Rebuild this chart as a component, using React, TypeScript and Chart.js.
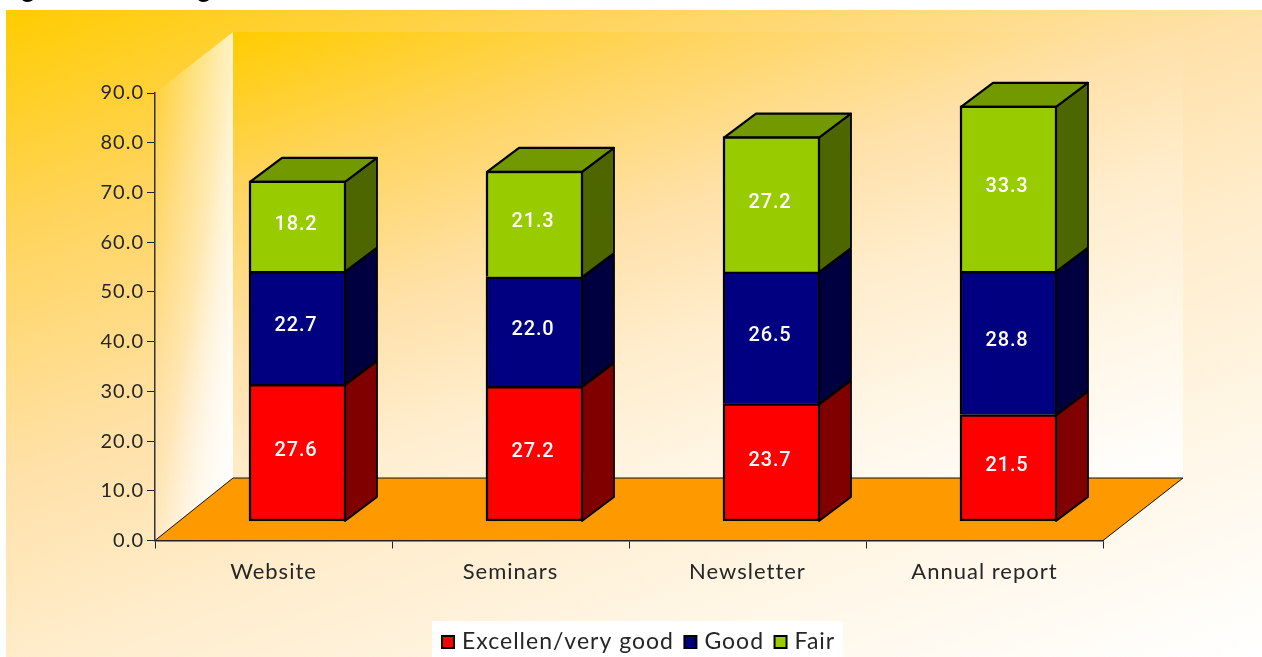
import React, { useEffect, useRef } from "react";
import { Chart, registerables } from "chart.js";

Chart.register(...registerables);

const categories = ["Website", "Seminars", "Newsletter", "Annual report"];
const excellentValues = [27.6, 27.2, 23.7, 21.5];
const goodValues = [22.7, 22.0, 26.5, 28.8];
const fairValues = [18.2, 21.3, 27.2, 33.3];
const seriesNames = ["Excellen/very good", "Good", "Fair"];
const frontColors = ["#ff0000", "#000080", "#99cc00"];
const sideColors = ["#800000", "#000040", "#4d6600"];
const topColor = "#739900";

const AXIS_FONT = "Lato";
const TEXT_COLOR = "#262626";

// Offset of the bar fronts from the axis plane, and the depth of each box.
const BAR_SHIFT = { x: 24, y: -19 };
const BAR_DEPTH = { x: 32, y: -24 };
// Depth of the room behind the axes.
const ROOM_DEPTH = { x: 78, y: -62.5 };

const STOPS: [number, string][] = [
  [0, "#ffcc00"],
  [0.2, "#ffd45c"],
  [0.42, "#ffe1a8"],
  [0.6, "#ffedcd"],
  [0.8, "#fff7e8"],
  [1, "#ffffff"],
];

function warmGradient(ctx: CanvasRenderingContext2D, x0: number, y0: number, x1: number, y1: number) {
  const g = ctx.createLinearGradient(x0, y0, x1, y1);
  STOPS.forEach(([t, c]) => g.addColorStop(t, c));
  return g;
}

function polygon(ctx: CanvasRenderingContext2D, pts: number[][]) {
  ctx.beginPath();
  pts.forEach(([x, y], i) => (i ? ctx.lineTo(x, y) : ctx.moveTo(x, y)));
  ctx.closePath();
}

// Panel, back wall, side wall and floor of the room, positioned from the chart area.
const roomPlugin = {
  id: "room",
  beforeDraw(chart: any) {
    const { ctx, chartArea: a, width, height } = chart;
    const backLeft = a.left + ROOM_DEPTH.x;
    const backRight = a.right + ROOM_DEPTH.x + 2;
    const backBottom = a.bottom + ROOM_DEPTH.y;
    const backTop = 32;

    ctx.save();
    ctx.fillStyle = warmGradient(ctx, 6, 10, 371, 990);
    ctx.fillRect(6, 10, width - 6, height - 10);

    ctx.fillStyle = warmGradient(ctx, backLeft, backTop, backLeft + 234, backTop + 690);
    ctx.fillRect(backLeft, backTop, backRight - backLeft, backBottom - backTop);

    const wall = [
      [a.left, a.bottom],
      [a.left, a.top],
      [backLeft, backTop],
      [backLeft, backBottom],
    ];
    const across = ctx.createLinearGradient(a.left, 0, backLeft, 0);
    across.addColorStop(0, "rgba(255,255,255,0)");
    across.addColorStop(1, "rgba(255,255,255,0.72)");
    polygon(ctx, wall);
    ctx.fillStyle = across;
    ctx.fill();
    const lower = ctx.createLinearGradient(backLeft - 66.7, backBottom - 10.4, backLeft, backBottom);
    lower.addColorStop(0, "rgba(255,255,255,0)");
    lower.addColorStop(1, "rgba(255,255,255,0.95)");
    polygon(ctx, wall);
    ctx.fillStyle = lower;
    ctx.fill();

    polygon(ctx, [
      [a.left, a.bottom],
      [backLeft, backBottom],
      [backRight, backBottom],
      [a.right, a.bottom],
    ]);
    ctx.fillStyle = "#ff9900";
    ctx.fill();
    ctx.strokeStyle = "#111";
    ctx.lineWidth = 1;
    ctx.stroke();

    // Descenders of the heading that runs off the top edge.
    ctx.fillStyle = "#000";
    ctx.font = "bold 26px 'Liberation Sans'";
    ctx.textAlign = "center";
    ctx.textBaseline = "alphabetic";
    ctx.fillText("g", 28, -3.5);
    ctx.fillText("g", 204, -3.5);
    ctx.restore();

    ctx.letterSpacing = "1px";
  },
};

// Shifts the bars onto the floor, and adds the side and top faces of each box.
const boxPlugin = {
  id: "boxes",
  beforeDatasetsDraw(chart: any) {
    const { ctx } = chart;
    ctx.save();
    ctx.translate(BAR_SHIFT.x, BAR_SHIFT.y);
    chart.data.datasets.forEach((_: unknown, d: number) => {
      const isTop = d === chart.data.datasets.length - 1;
      chart.getDatasetMeta(d).data.forEach((bar: any) => {
        const right = bar.x + bar.width / 2 - 1;
        const left = bar.x - bar.width / 2 + 1;
        const top = bar.y + 1;
        const bottom = bar.base;
        polygon(ctx, [
          [right, bottom],
          [right + BAR_DEPTH.x, bottom + BAR_DEPTH.y],
          [right + BAR_DEPTH.x, top + BAR_DEPTH.y],
          [right, top],
        ]);
        ctx.fillStyle = sideColors[d];
        ctx.fill();
        ctx.strokeStyle = "#000";
        ctx.lineWidth = 1.8;
        ctx.lineJoin = "round";
        ctx.stroke();
        if (isTop) {
          polygon(ctx, [
            [left, top],
            [left + BAR_DEPTH.x, top + BAR_DEPTH.y],
            [right + BAR_DEPTH.x, top + BAR_DEPTH.y],
            [right, top],
          ]);
          ctx.fillStyle = topColor;
          ctx.fill();
          ctx.lineWidth = 2.2;
          ctx.stroke();
        }
      });
    });
  },
  afterDatasetsDraw(chart: any) {
    const { ctx } = chart;
    ctx.font = "500 20px Roboto";
    ctx.letterSpacing = "0.8px";
    ctx.fillStyle = "#ffffff";
    ctx.textAlign = "center";
    ctx.textBaseline = "middle";
    chart.data.datasets.forEach((ds: any, d: number) => {
      chart.getDatasetMeta(d).data.forEach((bar: any, i: number) => {
        ctx.fillText(ds.data[i].toFixed(1), bar.x - 1.5, (bar.y + bar.base) / 2 - 1.5);
      });
    });
    ctx.restore();
    ctx.letterSpacing = "1px";
  },
  afterDraw(chart: any) {
    const { ctx } = chart;
    ctx.save();
    ctx.fillStyle = "#ffffff";
    ctx.fillRect(432, 621, 411, 36);
    ctx.font = `23px ${AXIS_FONT}`;
    ctx.letterSpacing = "1px";
    ctx.textAlign = "left";
    ctx.textBaseline = "alphabetic";
    let x = 441;
    chart.data.datasets.forEach((ds: any) => {
      ctx.fillStyle = ds.backgroundColor;
      ctx.fillRect(x + 1, 636, 12, 12);
      ctx.strokeStyle = "#000";
      ctx.lineWidth = 2;
      ctx.strokeRect(x + 1, 636, 12, 12);
      ctx.fillStyle = TEXT_COLOR;
      ctx.fillText(ds.label, x + 21, 649);
      x += 21 + ctx.measureText(ds.label).width + 9.5;
    });
    ctx.restore();
  },
};

const seriesValues = [excellentValues, goodValues, fairValues];

export default function App() {
  const ref = useRef<HTMLCanvasElement>(null);

  useEffect(() => {
    document.body.style.margin = "0";
    const chart = new Chart(ref.current as HTMLCanvasElement, {
      type: "bar",
      data: {
        labels: categories,
        datasets: seriesValues.map((values, i) => ({
          label: seriesNames[i],
          data: values,
          backgroundColor: frontColors[i],
          borderColor: "#000000",
          borderWidth: 2.5,
          borderSkipped: i === 0 ? false : "start",
          barThickness: 97,
        })),
      },
      options: {
        animation: false,
        responsive: false,
        maintainAspectRatio: false,
        layout: { padding: { left: 0, top: 93, right: 159, bottom: 0 } },
        plugins: { legend: { display: false }, tooltip: { enabled: false }, title: { display: false } },
        scales: {
          x: {
            stacked: true,
            afterFit: (s: any) => {
              s.height = 116.5;
            },
            border: { display: true, color: "#222222", width: 1.5 },
            grid: {
              display: true,
              offset: true,
              drawOnChartArea: false,
              drawTicks: true,
              tickLength: 8,
              tickColor: "#222222",
            },
            ticks: {
              color: TEXT_COLOR,
              font: { family: AXIS_FONT, size: 22 },
              padding: 10,
              maxRotation: 0,
            },
          },
          y: {
            stacked: true,
            min: 0,
            max: 90,
            afterFit: (s: any) => {
              s.width = 155;
            },
            border: { display: true, color: "#333333", width: 1.5 },
            grid: {
              display: true,
              drawOnChartArea: false,
              drawTicks: true,
              tickLength: 8,
              tickColor: "#222222",
            },
            ticks: {
              stepSize: 10,
              color: TEXT_COLOR,
              font: { family: AXIS_FONT, size: 20 },
              padding: 3,
              callback: (v: any) => Number(v).toFixed(1),
            },
          },
        },
      },
      plugins: [roomPlugin, boxPlugin],
    } as any);
    return () => chart.destroy();
  }, []);

  return <canvas ref={ref} width={1262} height={657} style={{ display: "block" }} />;
}
